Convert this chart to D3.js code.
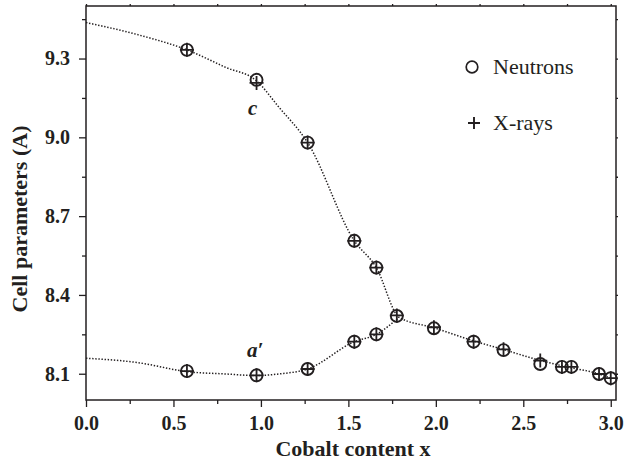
<!DOCTYPE html>
<html>
<head>
<meta charset="utf-8">
<script src="https://cdn.jsdelivr.net/npm/d3@7"></script>
<style>
    body { margin: 0; background: #fff; }
    text { font-family: "Liberation Serif", "Times New Roman", serif; fill: #231f20; }
    .tick-label { font-weight: bold; font-size: 20px; }
    .axis-title { font-weight: bold; font-size: 22px; }
</style>
</head>
<body>
<div id="chart"></div>
<script>
// measured points (cobalt content x vs cell parameter in A)
const cobalt = [0.577, 0.975, 1.267, 1.534, 1.660, 1.777, 1.989, 2.216, 2.387, 2.597, 2.721, 2.775, 2.933, 3.0];
const cNeutrons = [9.333, 9.219, 8.980, 8.606, 8.504, 8.320, 8.273, 8.222, 8.190, 8.137, 8.126, 8.126, 8.099, 8.083];
const cXrays = [9.333, 9.207, 8.980, 8.606, 8.504, 8.322, 8.277, 8.222, 8.193, 8.150, 8.126, 8.126, 8.099, 8.083];

const aCobalt = [0.577, 0.975, 1.267, 1.534, 1.660];
const aNeutrons = [8.110, 8.094, 8.118, 8.222, 8.250];
const aXrays = [8.110, 8.094, 8.118, 8.222, 8.250];

// dotted guide curves
const cFitX = [0, 0.3, 0.577, 0.8, 0.975, 1.1, 1.267, 1.534, 1.66, 1.79, 1.989, 2.216, 2.387, 2.6, 2.75, 2.933, 3.0];
const cFitY = [9.437, 9.390, 9.333, 9.266, 9.215, 9.117, 8.980, 8.606, 8.504, 8.315, 8.275, 8.225, 8.192, 8.150, 8.126, 8.099, 8.083];
const aFitX = [0, 0.3, 0.577, 0.8, 0.975, 1.1, 1.267, 1.534, 1.66, 1.79];
const aFitY = [8.159, 8.142, 8.108, 8.099, 8.093, 8.099, 8.118, 8.222, 8.250, 8.315];

const xMajor = [0, 0.5, 1.0, 1.5, 2.0, 2.5, 3.0];
const xMinor = [0.25, 0.75, 1.25, 1.75, 2.25, 2.75];
const yMajor = [8.1, 8.4, 8.7, 9.0, 9.3];
const yMinor = [8.25, 8.55, 8.85, 9.15, 9.45];

const legendLabels = ["Neutrons", "X-rays"];

const width = 625, height = 461;
const margin = { top: 6, right: 9, bottom: 61, left: 86 };

const svg = d3.select("#chart")
    .append("svg")
    .attr("width", width)
    .attr("height", height);

const x = d3.scaleLinear()
    .domain([0, 3.03])
    .range([margin.left, width - margin.right]);

const y = d3.scaleLinear()
    .domain([8.0, 9.5])
    .range([height - margin.bottom, margin.top]);

// axes

function styleAxis(g) {
    g.select(".domain").remove();
    g.selectAll("line").attr("stroke", "#231f20").attr("stroke-width", 1.3);
}

svg.append("g")
    .attr("transform", `translate(0,${height - margin.bottom})`)
    .call(d3.axisBottom(x).tickValues(xMajor).tickSize(7).tickPadding(9).tickFormat(d3.format(".1f")))
    .call(styleAxis)
    .call(g => g.selectAll("text").attr("class", "tick-label").attr("fill", "#231f20"));

svg.append("g")
    .attr("transform", `translate(0,${height - margin.bottom})`)
    .call(d3.axisBottom(x).tickValues(xMinor).tickSize(4).tickFormat(""))
    .call(styleAxis);

svg.append("g")
    .attr("transform", `translate(${margin.left},0)`)
    .call(d3.axisLeft(y).tickValues(yMajor).tickSize(7).tickPadding(9).tickFormat(d3.format(".1f")))
    .call(styleAxis)
    .call(g => g.selectAll("text").attr("class", "tick-label").attr("fill", "#231f20"));

svg.append("g")
    .attr("transform", `translate(${margin.left},0)`)
    .call(d3.axisLeft(y).tickValues(yMinor).tickSize(4).tickFormat(""))
    .call(styleAxis);

svg.append("g")
    .attr("transform", `translate(0,${margin.top})`)
    .call(d3.axisTop(x).tickValues(xMajor.concat(xMinor)).tickSize(2).tickFormat(""))
    .call(styleAxis);

svg.append("g")
    .attr("transform", `translate(${width - margin.right},0)`)
    .call(d3.axisRight(y).tickValues(yMajor.concat(yMinor)).tickSize(2).tickFormat(""))
    .call(styleAxis);

// frame
svg.append("rect")
    .attr("x", margin.left)
    .attr("y", margin.top)
    .attr("width", width - margin.left - margin.right)
    .attr("height", height - margin.top - margin.bottom)
    .attr("fill", "none")
    .attr("stroke", "#231f20")
    .attr("stroke-width", 1.5);

// titles
svg.append("text")
    .attr("class", "axis-title")
    .attr("text-anchor", "middle")
    .attr("x", (margin.left + width - margin.right) / 2 + 2)
    .attr("y", 456)
    .text("Cobalt content x");

svg.append("text")
    .attr("class", "axis-title")
    .attr("text-anchor", "middle")
    .attr("transform", `translate(27,219) rotate(-90)`)
    .text("Cell parameters (A)");

// guide curves
const line = d3.line()
    .x(d => x(d[0]))
    .y(d => y(d[1]))
    .curve(d3.curveMonotoneX);

[[cFitX, cFitY], [aFitX, aFitY]].forEach(([xs, ys]) => {
    svg.append("path")
        .datum(xs.map((v, i) => [v, ys[i]]))
        .attr("d", line)
        .attr("fill", "none")
        .attr("stroke", "#231f20")
        .attr("stroke-width", 1.5)
        .attr("stroke-dasharray", "1.4,1.7");
});

// markers
const neutronPts = cobalt.map((v, i) => [v, cNeutrons[i]])
    .concat(aCobalt.map((v, i) => [v, aNeutrons[i]]));
const xrayPts = cobalt.map((v, i) => [v, cXrays[i]])
    .concat(aCobalt.map((v, i) => [v, aXrays[i]]));

svg.selectAll(".neutron")
    .data(neutronPts)
    .join("circle")
    .attr("class", "neutron")
    .attr("cx", d => x(d[0]))
    .attr("cy", d => y(d[1]))
    .attr("r", 6)
    .attr("fill", "none")
    .attr("stroke", "#231f20")
    .attr("stroke-width", 1.9);

svg.selectAll(".xray")
    .data(xrayPts)
    .join("path")
    .attr("class", "xray")
    .attr("d", "M-7,0H7M0,-7V7")
    .attr("transform", d => `translate(${x(d[0])},${y(d[1])})`)
    .attr("fill", "none")
    .attr("stroke", "#231f20")
    .attr("stroke-width", 1.8);

// curve labels
svg.append("text")
    .attr("x", 248)
    .attr("y", 115)
    .attr("font-size", 21)
    .attr("font-style", "italic")
    .attr("font-weight", "bold")
    .text("c");

svg.append("text")
    .attr("x", 247)
    .attr("y", 357)
    .attr("font-size", 21)
    .attr("font-style", "italic")
    .attr("font-weight", "bold")
    .text("a\u2032");

// legend
const legend = svg.append("g");
legend.append("circle")
    .attr("cx", 472)
    .attr("cy", 67)
    .attr("r", 5.8)
    .attr("fill", "none")
    .attr("stroke", "#231f20")
    .attr("stroke-width", 1.7);
legend.append("path")
    .attr("d", "M468,123H480M474,117V129")
    .attr("stroke", "#231f20")
    .attr("stroke-width", 1.9);
legend.selectAll(".legend-label")
    .data(legendLabels)
    .join("text")
    .attr("class", "legend-label")
    .attr("x", 493)
    .attr("y", (d, i) => 74 + i * 56)
    .attr("font-size", 22)
    .text(d => d);
</script>
</body>
</html>
